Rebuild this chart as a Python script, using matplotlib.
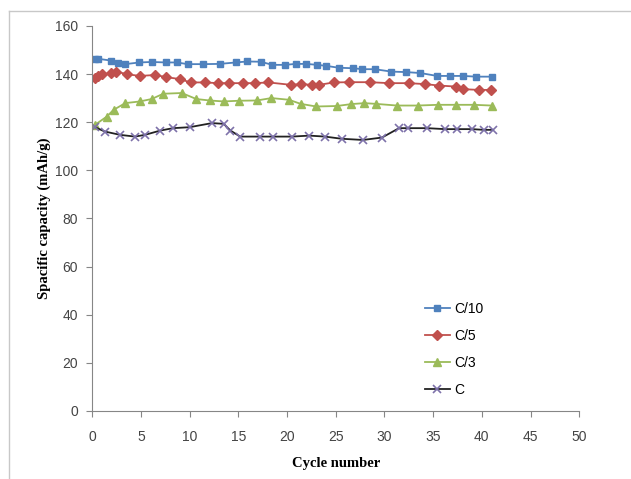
import matplotlib.pyplot as plt
from matplotlib.lines import Line2D

# --- Data ---
c10_cycle = [0.3, 0.65, 1.9, 2.7, 3.4, 4.85, 6.1, 7.6, 8.7, 9.8, 11.4, 13.1, 14.75,
             15.9, 17.3, 18.5, 19.8, 20.9, 22.0, 23.1, 24.0, 25.3, 26.8, 27.75, 29.0,
             30.7, 32.2, 33.7, 35.4, 36.7, 38.1, 39.4, 41.0]
c10_cap = [146.3, 146.3, 145.6, 144.5, 144.1, 144.8, 145.0, 144.8, 144.8, 144.1, 144.1,
           144.2, 144.8, 145.2, 145.1, 143.8, 143.8, 144.2, 144.2, 143.8, 143.4, 142.6,
           142.4, 142.0, 142.0, 141.0, 140.8, 140.4, 139.2, 139.2, 139.2, 138.9, 138.9]

c5_cycle = [0.3, 0.65, 1.0, 1.9, 2.5, 3.6, 4.9, 6.5, 7.6, 9.0, 10.1, 11.6, 12.9, 14.1,
            15.5, 16.7, 18.1, 20.4, 21.4, 22.6, 23.3, 24.8, 26.4, 28.5, 30.5, 32.5,
            34.2, 35.6, 37.3, 38.1, 39.7, 40.9]
c5_cap = [138.3, 139.2, 139.9, 140.3, 141.0, 139.9, 139.2, 139.6, 138.7, 137.9, 136.5,
          136.5, 136.2, 136.2, 136.2, 136.2, 136.5, 135.5, 135.8, 135.5, 135.5, 136.5,
          136.6, 136.6, 136.2, 136.2, 135.8, 135.2, 134.8, 133.7, 133.4, 133.4]

c3_cycle = [0.3, 1.5, 2.2, 3.4, 4.9, 6.1, 7.3, 9.2, 10.7, 12.05, 13.5, 15.1, 16.9, 18.4,
            20.2, 21.4, 23.0, 25.1, 26.6, 27.95, 29.1, 31.3, 33.4, 35.5, 37.3, 39.2, 41.0]
c3_cap = [118.9, 122.3, 125.1, 127.9, 128.6, 129.6, 131.8, 132.1, 129.6, 129.0, 128.6,
          128.9, 129.0, 130.0, 129.3, 127.6, 126.5, 126.7, 127.5, 127.9, 127.6, 126.9,
          126.9, 127.2, 127.2, 127.2, 126.9]

c1_cycle = [0.3, 1.3, 2.9, 4.4, 5.4, 7.0, 8.3, 10.0, 12.3, 13.5, 14.2, 15.2, 17.25, 18.6,
            20.5, 22.3, 23.9, 25.6, 27.8, 29.75, 31.5, 32.4, 34.4, 36.2, 37.4, 38.98,
            40.2, 41.1]
c1_cap = [117.9, 116.1, 114.7, 114.0, 114.7, 116.5, 117.5, 117.9, 119.6, 119.3, 116.5,
          114.0, 114.0, 114.0, 114.0, 114.4, 114.0, 113.1, 112.6, 113.6, 117.5, 117.5,
          117.5, 117.1, 117.1, 117.1, 116.8, 116.8]

x_ticks = list(range(0, 51, 5))
y_ticks = list(range(0, 161, 20))

# --- Plot ---
fig = plt.figure(figsize=(6.31, 4.79), dpi=100)
ax = fig.add_axes([0.146, 0.142, 0.772, 0.804])

ax.plot(c10_cycle, c10_cap, color="#4F81BD", marker="s", ms=5, lw=1.3, label="C/10")
ax.plot(c5_cycle, c5_cap, color="#C0504D", marker="D", ms=5, lw=1.3, label="C/5")
ax.plot(c3_cycle, c3_cap, color="#9BBB59", marker="^", ms=6, lw=1.3, label="C/3")
ax.plot(c1_cycle, c1_cap, color="#222222", marker="x", ms=5.5, mew=1.2,
        mec="#7E72AA", lw=1.3, label="C")

ax.set_xlim(0, 50)
ax.set_ylim(0, 160)
ax.set_xticks(x_ticks)
ax.set_yticks(y_ticks)

for side in ["top", "right"]:
    ax.spines[side].set_visible(False)
for side in ["left", "bottom"]:
    ax.spines[side].set_color("#868686")
ax.tick_params(direction="out", length=4, color="#868686", labelsize=10,
               labelcolor="#444444")
ax.tick_params(axis="x", pad=10)
ax.tick_params(axis="y", pad=6)
for lbl in ax.get_xticklabels() + ax.get_yticklabels():
    lbl.set_family("Liberation Sans")

ax.set_xlabel("Cycle number", family="Liberation Serif", fontweight="bold",
              fontsize=10.5)
ax.set_ylabel("Spacific capacity (mAh/g)", family="Liberation Serif",
              fontweight="bold", fontsize=10.5)
ax.xaxis.set_label_coords(0.5, -0.12)
ax.yaxis.set_label_coords(-0.085, 0.5)

ax.legend(loc="upper left", bbox_to_anchor=(0.662, 0.385),
          bbox_transform=fig.transFigure, frameon=False,
          prop={"family": "Liberation Sans", "size": 10},
          labelspacing=0.95, handlelength=1.8, handletextpad=0.3, borderpad=0)

# frame lines at top and left of the picture
fig.add_artist(Line2D([9 / 631, 1.0], [1 - 11 / 479, 1 - 11 / 479],
                      transform=fig.transFigure, color="#c8c8c8", lw=1))
fig.add_artist(Line2D([9 / 631, 9 / 631], [0, 1 - 11 / 479],
                      transform=fig.transFigure, color="#c8c8c8", lw=1))

fig.savefig("out.png", dpi=100)
plt.close(fig)
